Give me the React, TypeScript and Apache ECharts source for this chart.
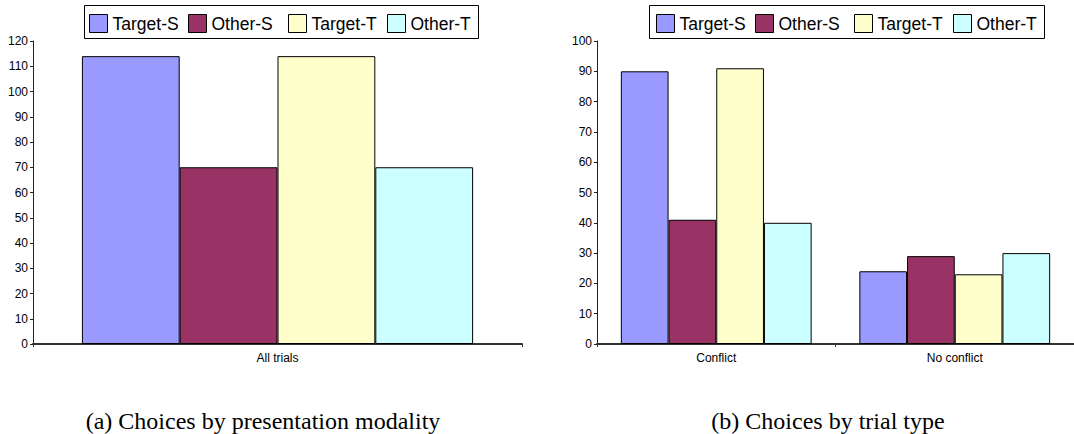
import React, { useEffect, useRef } from "react";
import * as echarts from "echarts";

const seriesNames = ["Target-S", "Other-S", "Target-T", "Other-T"];
const colors = ["#9999FF", "#993366", "#FFFFCC", "#CCFFFF"];

const catsA = ["All trials"];
const valsA = [[114], [70], [114], [70]];

const catsB = ["Conflict", "No conflict"];
const valsB = [
  [90, 24],
  [41, 29],
  [91, 23],
  [40, 30],
];

const yTicksA = { min: 0, max: 120, interval: 10 };
const yTicksB = { min: 0, max: 100, interval: 10 };

const captionA = "(a) Choices by presentation modality";
const captionB = "(b) Choices by trial type";

const FONT = "Liberation Sans, Arial, sans-serif";
const SERIF = "Liberation Serif, Times New Roman, serif";

// legend layout (pixel positions of each legend entry and box)
const legendLeftA = [89, 188, 288, 387];
const legendLeftB = [656, 755, 854, 953];
const legendBoxA = { x: 84, w: 394 };
const legendBoxB = { x: 649, w: 395 };

export default function App() {
  const ref = useRef<HTMLDivElement>(null);
  useEffect(() => {
    if (!ref.current) return;
    const chart = echarts.init(ref.current, undefined, { renderer: "svg" });
    const axisLine = { show: true, lineStyle: { color: "#222", width: 1 } };
    const yAxisCommon = {
      type: "value" as const,
      axisLine,
      axisTick: { show: true, length: 3, lineStyle: { color: "#222" } },
      axisLabel: { color: "#000", fontSize: 12, fontFamily: FONT, margin: 5 },
      splitLine: { show: false },
    };
    const xAxisCommon = {
      type: "category" as const,
      axisLine: { show: true, lineStyle: { color: "#333", width: 2 } },
      axisTick: { show: true, length: 3, lineStyle: { color: "#333" } },
      axisLabel: { color: "#000", fontSize: 12, fontFamily: FONT, margin: 8 },
    };
    const legendItem = (name: string, left: number) => ({
      left,
      top: 14,
      orient: "horizontal" as const,
      data: [name],
      icon: "rect",
      itemWidth: 18,
      itemHeight: 18,
      itemTextGap: 6,
      padding: 0,
      selectedMode: false,
      textStyle: { color: "#000", fontSize: 17.5, fontFamily: FONT },
      itemStyle: { borderColor: "#000", borderWidth: 1 },
    });
    const mkSeries = (vals: number[][], idx: number) =>
      seriesNames.map((name, i) => ({
        name,
        type: "bar" as const,
        xAxisIndex: idx,
        yAxisIndex: idx,
        data: vals[i],
        barGap: "0%",
        barCategoryGap: "20%",
        itemStyle: { color: colors[i], borderColor: "#000", borderWidth: 1 },
      }));
    const caption = (text: string, x: number) => ({
      type: "text",
      x,
      y: 421,
      style: {
        text,
        fontSize: 24,
        fontFamily: SERIF,
        fill: "#000",
        align: "center",
        verticalAlign: "middle",
      },
    });
    const box = (b: { x: number; w: number }) => ({
      type: "rect",
      z: -1,
      shape: { x: b.x + 0.5, y: 5.5, width: b.w, height: 33 },
      style: { fill: "#fff", stroke: "#000", lineWidth: 1 },
    });
    chart.setOption({
      animation: false,
      legend: [
        ...seriesNames.map((n, i) => legendItem(n, legendLeftA[i])),
        ...seriesNames.map((n, i) => legendItem(n, legendLeftB[i])),
      ],
      grid: [
        { left: 33, right: 552, top: 41, bottom: 90 },
        { left: 597, right: -13, top: 41, bottom: 90 },
      ],
      xAxis: [
        { ...xAxisCommon, gridIndex: 0, data: catsA },
        { ...xAxisCommon, gridIndex: 1, data: catsB },
      ],
      yAxis: [
        { ...yAxisCommon, gridIndex: 0, ...yTicksA },
        { ...yAxisCommon, gridIndex: 1, ...yTicksB },
      ],
      series: [...mkSeries(valsA, 0), ...mkSeries(valsB, 1)],
      graphic: [
        box(legendBoxA),
        box(legendBoxB),
        caption(captionA, 263),
        caption(captionB, 828),
      ],
    });
    return () => chart.dispose();
  }, []);
  return (
    <div
      ref={ref}
      style={{ position: "fixed", left: 0, top: 0, width: 1074, height: 434, background: "#fff" }}
    />
  );
}
